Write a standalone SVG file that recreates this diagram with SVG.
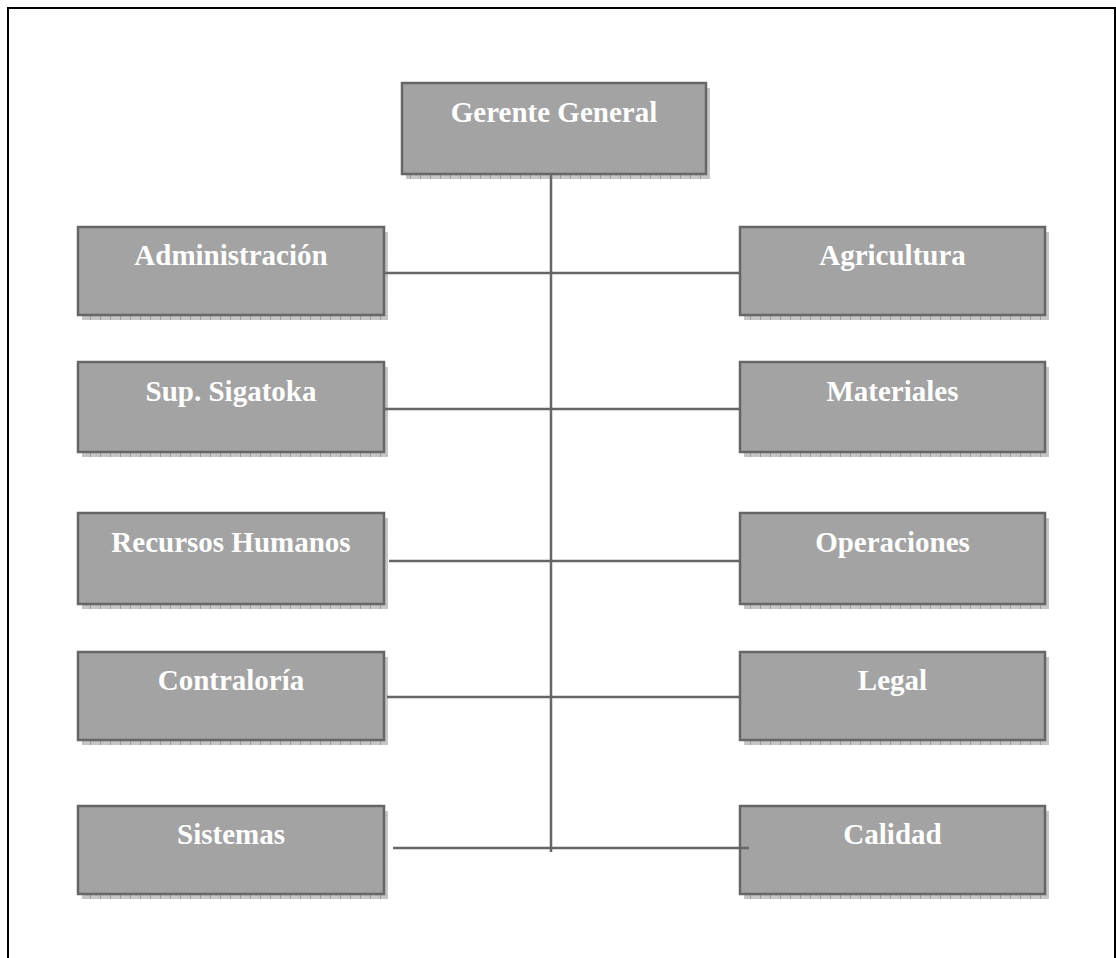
<svg xmlns="http://www.w3.org/2000/svg" width="1116" height="958" viewBox="0 0 1116 958">
<style>
.box{fill:#a3a3a3;stroke:#666666;stroke-width:2.5}
.shadow{fill:url(#sh)}
.lbl{font-family:"Liberation Serif","Times New Roman",serif;font-weight:bold;font-size:29px;fill:#ffffff;text-anchor:middle}
.con{stroke:#666666;stroke-width:2.5;fill:none}
</style>
<defs>
<pattern id="sh" width="10" height="10" patternUnits="userSpaceOnUse">
<rect width="10" height="10" fill="#c6c6c6"/>
<rect x="0" y="0" width="1" height="10" fill="#9a9a9a"/>
<rect x="3" y="2" width="1" height="1" fill="#b0b0b0"/>
<rect x="6" y="5" width="1" height="1" fill="#b0b0b0"/>
</pattern>
</defs>
<rect width="1116" height="958" fill="#ffffff"/>
<path d="M8,958 V8 H1115 V958" fill="none" stroke="#000000" stroke-width="2"/>

<g id="gerente">
<rect class="shadow" x="406" y="88" width="304" height="91"/>
<rect class="box" x="402" y="83" width="304" height="91"/>
<text class="lbl" x="554" y="122">Gerente General</text>
</g>

<g id="administracion">
<rect class="shadow" x="82" y="232" width="306" height="88"/>
<rect class="box" x="78" y="227" width="306" height="88"/>
<text class="lbl" x="231" y="265">Administración</text>
</g>
<g id="agricultura">
<rect class="shadow" x="744" y="232" width="305" height="88"/>
<rect class="box" x="740" y="227" width="305" height="88"/>
<text class="lbl" x="892.5" y="265">Agricultura</text>
</g>

<g id="sigatoka">
<rect class="shadow" x="82" y="367" width="306" height="90"/>
<rect class="box" x="78" y="362" width="306" height="90"/>
<text class="lbl" x="231" y="401">Sup. Sigatoka</text>
</g>
<g id="materiales">
<rect class="shadow" x="744" y="367" width="305" height="90"/>
<rect class="box" x="740" y="362" width="305" height="90"/>
<text class="lbl" x="892.5" y="401">Materiales</text>
</g>

<g id="rrhh">
<rect class="shadow" x="82" y="518" width="306" height="91"/>
<rect class="box" x="78" y="513" width="306" height="91"/>
<text class="lbl" x="231" y="552">Recursos Humanos</text>
</g>
<g id="operaciones">
<rect class="shadow" x="744" y="518" width="305" height="91"/>
<rect class="box" x="740" y="513" width="305" height="91"/>
<text class="lbl" x="892.5" y="552">Operaciones</text>
</g>

<g id="contraloria">
<rect class="shadow" x="82" y="657" width="306" height="88"/>
<rect class="box" x="78" y="652" width="306" height="88"/>
<text class="lbl" x="231" y="690">Contraloría</text>
</g>
<g id="legal">
<rect class="shadow" x="744" y="657" width="305" height="88"/>
<rect class="box" x="740" y="652" width="305" height="88"/>
<text class="lbl" x="892.5" y="690">Legal</text>
</g>

<g id="sistemas">
<rect class="shadow" x="82" y="811" width="306" height="88"/>
<rect class="box" x="78" y="806" width="306" height="88"/>
<text class="lbl" x="231" y="844">Sistemas</text>
</g>
<g id="calidad">
<rect class="shadow" x="744" y="811" width="305" height="88"/>
<rect class="box" x="740" y="806" width="305" height="88"/>
<text class="lbl" x="892.5" y="844">Calidad</text>
</g>

<g id="connectors">
<line class="con" x1="551" y1="174" x2="551" y2="852"/>
<line class="con" x1="384" y1="273" x2="740" y2="273"/>
<line class="con" x1="384" y1="409" x2="740" y2="409"/>
<line class="con" x1="389" y1="561" x2="740" y2="561"/>
<line class="con" x1="387" y1="697" x2="740" y2="697"/>
<line class="con" x1="393" y1="848" x2="749" y2="848"/>
</g>
</svg>
